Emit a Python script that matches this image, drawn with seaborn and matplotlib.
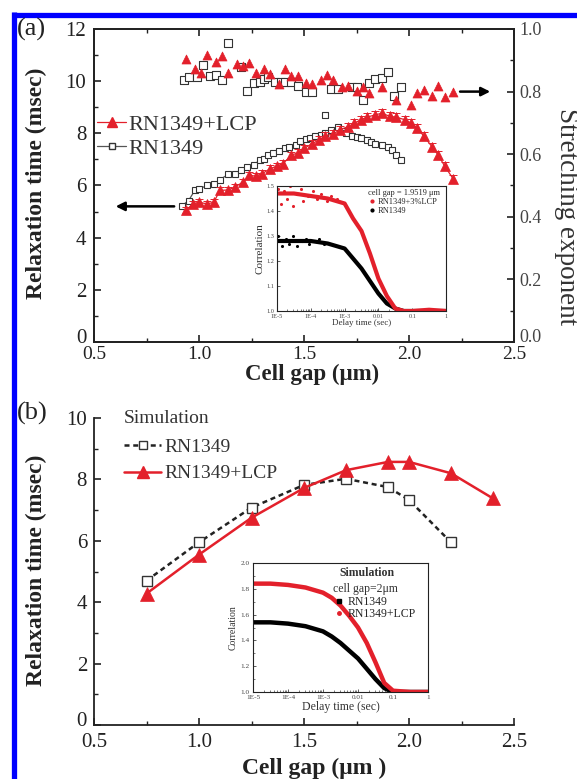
import matplotlib
matplotlib.use("Agg")
import matplotlib.pyplot as plt
import seaborn as sns
from matplotlib.lines import Line2D
from matplotlib.transforms import ScaledTranslation
from matplotlib.ticker import MultipleLocator, FormatStrFormatter, FixedLocator, FixedFormatter, LogLocator, NullFormatter

sns.set_theme(style="ticks")
plt.rcParams['font.family'] = ['Liberation Serif', 'DejaVu Serif']

RED = '#e3202b'
DARK = '#222222'
GRAY = '#555555'

# ---------------- panel (a): measured relaxation time ----------------
gap_lcp = [0.94, 0.97, 1.00, 1.04, 1.07, 1.10, 1.14, 1.17, 1.21, 1.24, 1.27, 1.30, 1.34,
           1.37, 1.40, 1.44, 1.47, 1.50, 1.54, 1.57, 1.60, 1.64, 1.67, 1.71, 1.74, 1.77,
           1.80, 1.84, 1.87, 1.91, 1.94, 1.98, 2.01, 2.04, 2.07, 2.11, 2.14, 2.17, 2.21]
tau_lcp = [5.06, 5.29, 5.36, 5.29, 5.36, 5.81, 5.83, 5.94, 6.13, 6.39, 6.36, 6.45, 6.65,
           6.74, 6.84, 7.16, 7.25, 7.42, 7.61, 7.74, 7.90, 7.98, 8.13, 8.26, 8.39, 8.52,
           8.62, 8.71, 8.77, 8.65, 8.62, 8.52, 8.39, 8.19, 7.90, 7.48, 7.16, 6.74, 6.26]
err_lcp = [0.12, 0.12, 0.12, 0.12, 0.12, 0.12, 0.13, 0.13, 0.13, 0.13, 0.13, 0.13, 0.13,
           0.13, 0.13, 0.14, 0.14, 0.14, 0.14, 0.14, 0.14, 0.14, 0.15, 0.15, 0.15, 0.15,
           0.15, 0.15, 0.15, 0.15, 0.15, 0.15, 0.15, 0.15, 0.15, 0.15, 0.15, 0.15, 0.15]

gap_rn = [0.92, 0.95, 0.98, 1.00, 1.04, 1.07, 1.10, 1.14, 1.17, 1.20, 1.23, 1.26, 1.29,
          1.31, 1.33, 1.35, 1.38, 1.41, 1.43, 1.46, 1.48, 1.51, 1.53, 1.55, 1.58, 1.60,
          1.63, 1.66, 1.68, 1.70, 1.73, 1.75, 1.77, 1.80, 1.82, 1.84, 1.87, 1.90, 1.92,
          1.94, 1.96]
tau_rn = [5.23, 5.42, 5.81, 5.87, 6.00, 6.04, 6.23, 6.43, 6.45, 6.61, 6.71, 6.80, 6.97,
          7.03, 7.16, 7.23, 7.33, 7.42, 7.46, 7.55, 7.72, 7.77, 7.83, 7.90, 7.94, 8.00,
          8.13, 8.23, 8.10, 8.00, 7.90, 7.85, 7.81, 7.74, 7.68, 7.61, 7.55, 7.48, 7.36,
          7.16, 6.97]
gap_rn_out = [1.60]
tau_rn_out = [8.71]

# stretching exponent (right axis)
beta_gap_lcp = [0.94, 0.98, 1.01, 1.04, 1.08, 1.11, 1.14, 1.18, 1.21, 1.24, 1.27, 1.31,
                1.34, 1.38, 1.41, 1.44, 1.47, 1.51, 1.54, 1.58, 1.61, 1.64, 1.68, 1.71,
                1.75, 1.78, 1.81, 1.87, 1.94, 2.01, 2.04, 2.07, 2.11, 2.14, 2.17, 2.21]
beta_lcp = [0.905, 0.871, 0.860, 0.916, 0.896, 0.914, 0.860, 0.887, 0.882, 0.890, 0.860,
            0.871, 0.855, 0.823, 0.871, 0.849, 0.849, 0.828, 0.823, 0.837, 0.853, 0.837,
            0.815, 0.817, 0.801, 0.815, 0.796, 0.815, 0.774, 0.758, 0.796, 0.806, 0.785,
            0.819, 0.783, 0.798]
beta_gap_rn = [0.93, 0.95, 0.99, 1.02, 1.05, 1.08, 1.11, 1.14, 1.20, 1.23, 1.26, 1.29,
               1.31, 1.33, 1.36, 1.39, 1.41, 1.44, 1.47, 1.51, 1.54, 1.63, 1.66, 1.73,
               1.75, 1.78, 1.81, 1.84, 1.87, 1.90, 1.93, 1.96]
beta_rn = [0.837, 0.847, 0.847, 0.884, 0.849, 0.852, 0.837, 0.955, 0.880, 0.801, 0.828,
           0.830, 0.839, 0.846, 0.830, 0.830, 0.830, 0.830, 0.819, 0.798, 0.798, 0.809,
           0.809, 0.815, 0.815, 0.774, 0.828, 0.839, 0.844, 0.862, 0.787, 0.815]

# inset (a): measured correlation
delay_a = [1e-5, 3.16e-5, 1e-4, 3.16e-4, 1e-3, 1.78e-3, 3.16e-3, 5.62e-3, 1e-2,
           1.78e-2, 3.16e-2, 5.62e-2, 0.1, 0.316, 1.0]
corr_a_lcp = [1.47, 1.47, 1.46, 1.45, 1.43, 1.37, 1.32, 1.23, 1.13, 1.06, 1.01, 1.00,
              1.00, 1.005, 1.00]
corr_a_rn = [1.28, 1.28, 1.28, 1.27, 1.25, 1.21, 1.17, 1.12, 1.07, 1.03, 1.01, 1.00,
             1.00, 1.00, 1.00]
# scattered early points of the measured curves (inset a)
noise_delay_lcp = [1.1e-5, 1.3e-5, 1.6e-5, 2.0e-5, 2.5e-5, 3.0e-5, 4.0e-5, 5.0e-5, 6.0e-5,
                   8.0e-5, 1.2e-4, 1.5e-4, 2.0e-4, 3.0e-4, 4.0e-4, 6.0e-4]
noise_corr_lcp = [1.49, 1.43, 1.48, 1.45, 1.50, 1.42, 1.47, 1.49, 1.44, 1.46, 1.48, 1.45,
                  1.47, 1.44, 1.46, 1.45]
noise_delay_rn = [1.1e-5, 1.4e-5, 1.8e-5, 2.3e-5, 3.0e-5, 4.0e-5, 5.5e-5, 7.0e-5, 9.0e-5,
                  1.3e-4, 1.8e-4, 2.5e-4]
noise_corr_rn = [1.30, 1.26, 1.29, 1.27, 1.30, 1.26, 1.28, 1.29, 1.27, 1.28, 1.29, 1.27]

# ---------------- panel (b): simulation ----------------
sim_gap_rn = [0.75, 1.0, 1.25, 1.5, 1.7, 1.9, 2.0, 2.2]
sim_tau_rn = [4.70, 5.95, 7.08, 7.82, 8.02, 7.75, 7.33, 5.95]
sim_gap_lcp = [0.75, 1.0, 1.25, 1.5, 1.7, 1.9, 2.0, 2.2, 2.4]
sim_tau_lcp = [4.28, 5.55, 6.75, 7.72, 8.30, 8.57, 8.57, 8.20, 7.38]

delay_b = [1e-5, 3.16e-5, 1e-4, 3.16e-4, 1e-3, 1.78e-3, 3.16e-3, 5.62e-3, 1e-2,
           1.78e-2, 3.16e-2, 5.62e-2, 0.1, 0.316, 1.0]
corr_b_lcp = [1.84, 1.84, 1.83, 1.81, 1.77, 1.73, 1.67, 1.59, 1.50, 1.38, 1.23, 1.07,
              1.01, 1.00, 1.00]
corr_b_rn = [1.54, 1.54, 1.53, 1.51, 1.47, 1.43, 1.38, 1.32, 1.26, 1.18, 1.10, 1.03,
             1.00, 1.00, 1.00]

xticks_log = [1e-5, 1e-4, 1e-3, 1e-2, 1e-1, 1]
xticklabels_log = ['1E-5', '1E-4', '1E-3', '0.01', '0.1', '1']

W, H = 577, 779
fig = plt.figure(figsize=(W / 100, H / 100), dpi=100)


def rect(l, t, r, b):
    return [l / W, 1 - b / H, (r - l) / W, (b - t) / H]


def style_spines(ax, lw=1.3):
    for s in ax.spines.values():
        s.set_linewidth(lw)
        s.set_color(DARK)


# ===================== panel (a) =====================
axA = fig.add_axes(rect(94, 29, 514, 342))
axA2 = axA.twinx()

sns.lineplot(x=gap_rn, y=tau_rn, ax=axA, color=GRAY, linewidth=0.9, marker='s',
             markersize=5, markerfacecolor='white', markeredgecolor='#333333',
             markeredgewidth=0.8, sort=False, estimator=None, legend=False)
sns.scatterplot(x=gap_rn_out, y=tau_rn_out, ax=axA, marker='s', s=24, color='white',
                edgecolor='#333333', linewidth=0.8, legend=False)
axA.errorbar(gap_lcp, tau_lcp, yerr=err_lcp, fmt='none', ecolor=RED, elinewidth=0.7,
             capsize=3, capthick=0.7, zorder=3)
sns.lineplot(x=gap_lcp, y=tau_lcp, ax=axA, color=RED, linewidth=0.9, marker='^',
             markersize=6.5, markeredgecolor=RED, markeredgewidth=0.5, sort=False,
             estimator=None, legend=False)

sns.scatterplot(x=beta_gap_rn, y=beta_rn, ax=axA2, marker='s', s=26, color='white',
                edgecolor='#333333', linewidth=0.8, legend=False)
sns.scatterplot(x=beta_gap_lcp, y=beta_lcp, ax=axA2, marker='^', s=42, color=RED,
                edgecolor=RED, linewidth=0.5, legend=False)

axA.set_xlim(0.5, 2.5)
axA.set_ylim(0, 12)
axA2.set_ylim(0, 1.0)
axA.set_xlabel('')
axA.set_ylabel('')
axA2.set_ylabel('')
axA.xaxis.set_major_locator(MultipleLocator(0.5))
axA.xaxis.set_minor_locator(MultipleLocator(0.25))
axA.xaxis.set_major_formatter(FormatStrFormatter('%.1f'))
axA.yaxis.set_major_locator(MultipleLocator(2))
axA.yaxis.set_minor_locator(MultipleLocator(1))
axA2.yaxis.set_major_locator(MultipleLocator(0.2))
axA2.yaxis.set_minor_locator(MultipleLocator(0.1))
axA2.yaxis.set_major_formatter(FormatStrFormatter('%.1f'))
axA.tick_params(axis='x', which='both', direction='in', top=True, labelsize=14,
                pad=3, colors=DARK)
axA.tick_params(axis='y', which='both', direction='in', right=False, labelsize=15,
                pad=5.5, colors=DARK)
axA.tick_params(which='major', length=5, width=1.2)
axA.tick_params(which='minor', length=3, width=1.0)
axA2.tick_params(axis='y', which='both', direction='in', labelsize=13, pad=4,
                 colors=DARK, labelcolor='#444444')
axA2.tick_params(which='major', length=5, width=1.2)
axA2.tick_params(which='minor', length=3, width=1.0)
style_spines(axA)
style_spines(axA2)

# arrows
axA.annotate('', xy=(0.59, 5.2), xytext=(0.895, 5.2),
             arrowprops=dict(arrowstyle='-|>', color='black', lw=1.8, mutation_scale=13))
axA2.annotate('', xy=(2.40, 0.80), xytext=(2.23, 0.80),
              arrowprops=dict(arrowstyle='-|>', color='black', lw=1.8, mutation_scale=13))

legA = axA.legend(
    handles=[Line2D([], [], color=RED, lw=0.9, marker='^', ms=7, mec=RED),
             Line2D([], [], color=GRAY, lw=0.9, marker='s', ms=5, mfc='white', mec='#333333')],
    labels=['RN1349+LCP', 'RN1349'], loc='upper left', bbox_to_anchor=(0.008, 0.727),
    frameon=False, fontsize=16, handlelength=1.3, handletextpad=0.1, labelspacing=0.15,
    borderpad=0, borderaxespad=0)
for t in legA.get_texts():
    t.set_color('#333333')

# inset (a)
axI1 = fig.add_axes(rect(277, 186, 446, 311))
axI1.set_facecolor('white')
sns.lineplot(x=delay_a, y=corr_a_rn, ax=axI1, color='black', linewidth=3.0,
             sort=False, estimator=None, legend=False)
sns.scatterplot(x=noise_delay_rn, y=noise_corr_rn, ax=axI1, color='black', s=5,
                linewidth=0, legend=False)
sns.lineplot(x=delay_a, y=corr_a_lcp, ax=axI1, color=RED, linewidth=3.0,
             sort=False, estimator=None, legend=False)
sns.scatterplot(x=noise_delay_lcp, y=noise_corr_lcp, ax=axI1, color=RED, s=5,
                linewidth=0, legend=False)
axI1.set_xscale('log')
axI1.set_xlim(1e-5, 1)
axI1.set_ylim(1.0, 1.5)
axI1.xaxis.set_major_locator(FixedLocator(xticks_log))
axI1.xaxis.set_major_formatter(FixedFormatter(xticklabels_log))
axI1.xaxis.set_minor_locator(LogLocator(base=10, subs=range(2, 10)))
axI1.xaxis.set_minor_formatter(NullFormatter())
axI1.yaxis.set_major_locator(MultipleLocator(0.1))
axI1.yaxis.set_major_formatter(FormatStrFormatter('%.1f'))
axI1.tick_params(which='both', direction='in', labelsize=4.5, colors='#444444')
axI1.tick_params(axis='x', pad=2)
axI1.tick_params(axis='y', pad=2)
axI1.tick_params(which='major', length=2.5, width=0.6)
axI1.tick_params(which='minor', length=1.5, width=0.5)
axI1.set_xlabel('Delay time (sec)', fontsize=6.5, labelpad=0.5, color='#333333')
axI1.set_ylabel('Correlation', fontsize=8, labelpad=1.5, color='#333333')
style_spines(axI1, 0.8)
legI1 = axI1.legend(
    handles=[Line2D([], [], ls='none', marker='o', ms=2, color=RED),
             Line2D([], [], ls='none', marker='o', ms=2, color='black')],
    labels=['RN1349+3%LCP', 'RN1349'], title='cell gap = 1.9519 μm',
    loc='upper right', bbox_to_anchor=(1.0, 1.02), frameon=False, fontsize=6,
    title_fontsize=6, handlelength=1.0, handletextpad=0.2, labelspacing=0.1,
    borderpad=0.2, alignment='left')

# ===================== panel (b) =====================
axB = fig.add_axes(rect(94, 418, 514, 725))
sns.lineplot(x=sim_gap_rn, y=sim_tau_rn, ax=axB, color='#222222', linewidth=1.8,
             linestyle=(0, (2, 1.5)), marker='s', markersize=7, markerfacecolor='white',
             markeredgecolor='#333333', markeredgewidth=1.0, sort=False, estimator=None,
             legend=False)
sns.lineplot(x=sim_gap_lcp, y=sim_tau_lcp, ax=axB, color=RED, linewidth=1.8, marker='^',
             markersize=9.5, markeredgecolor=RED, markeredgewidth=0.5, sort=False,
             estimator=None, legend=False)
axB.set_xlim(0.5, 2.5)
axB.set_ylim(0, 10)
axB.set_xlabel('')
axB.set_ylabel('')
sns.despine(ax=axB)
axB.xaxis.set_major_locator(MultipleLocator(0.5))
axB.xaxis.set_minor_locator(MultipleLocator(0.25))
axB.xaxis.set_major_formatter(FormatStrFormatter('%.1f'))
axB.yaxis.set_major_locator(MultipleLocator(2))
axB.yaxis.set_minor_locator(MultipleLocator(1))
axB.tick_params(axis='x', which='both', direction='in', labelsize=15, pad=6, colors=DARK)
axB.tick_params(axis='y', which='both', direction='in', labelsize=15, pad=5, colors=DARK)
axB.tick_params(which='major', length=5, width=1.2)
axB.tick_params(which='minor', length=3, width=1.0)
style_spines(axB)

legB = axB.legend(
    handles=[Line2D([], [], color='#222222', lw=1.8, ls=(0, (2, 1.5)), marker='s', ms=6,
                    mfc='white', mec='#333333'),
             Line2D([], [], color=RED, lw=1.8, marker='^', ms=9, mec=RED)],
    labels=['RN1349', 'RN1349+LCP'], title='Simulation', loc='upper left',
    bbox_to_anchor=(0.072, 1.025), frameon=False, fontsize=14, title_fontsize=14,
    handlelength=1.9, handletextpad=0.15, labelspacing=0.45, borderpad=0,
    borderaxespad=0, alignment='left')
legB._legend_box.sep = 8
legB.get_title().set_color('#333333')
for t in legB.get_texts():
    t.set_color('#333333')

# inset (b)
axI2 = fig.add_axes(rect(253, 563, 428, 692))
axI2.set_facecolor('white')
sns.lineplot(x=delay_b, y=corr_b_rn, ax=axI2, color='black', linewidth=3.2,
             sort=False, estimator=None, legend=False)
sns.lineplot(x=delay_b, y=corr_b_lcp, ax=axI2, color=RED, linewidth=3.2,
             sort=False, estimator=None, legend=False)
axI2.set_xscale('log')
axI2.set_xlim(1e-5, 1)
axI2.set_ylim(1.0, 2.0)
axI2.xaxis.set_major_locator(FixedLocator(xticks_log))
axI2.xaxis.set_major_formatter(FixedFormatter(xticklabels_log))
axI2.xaxis.set_minor_locator(LogLocator(base=10, subs=range(2, 10)))
axI2.xaxis.set_minor_formatter(NullFormatter())
axI2.yaxis.set_major_locator(MultipleLocator(0.2))
axI2.yaxis.set_minor_locator(MultipleLocator(0.1))
axI2.yaxis.set_major_formatter(FormatStrFormatter('%.1f'))
axI2.tick_params(which='both', direction='in', labelsize=5.2, colors='#444444')
axI2.tick_params(axis='x', pad=2.5)
axI2.tick_params(axis='y', pad=2.5)
axI2.tick_params(which='major', length=2.5, width=0.6)
axI2.tick_params(which='minor', length=1.5, width=0.5)
axI2.set_xlabel('Delay time (sec)', fontsize=8.5, labelpad=0.5, color='#333333')
axI2.set_ylabel('Correlation', fontsize=7, labelpad=2, color='#333333')
style_spines(axI2, 0.8)
axI2.text(0.65, 0.92, 'Simulation', transform=axI2.transAxes, fontsize=8.5,
          fontweight='bold', ha='center', va='center', color='#333333')
axI2.text(0.645, 0.80, 'cell gap=2μm', transform=axI2.transAxes, fontsize=8.5,
          ha='center', va='center', color='#333333')
axI2.legend(
    handles=[Line2D([], [], ls='none', marker='s', ms=2.5, color='black'),
             Line2D([], [], ls='none', marker='o', ms=2.5, color=RED)],
    labels=['RN1349', 'RN1349+LCP'], loc='upper left', bbox_to_anchor=(0.46, 0.745),
    frameon=False, fontsize=8.5, handlelength=1.0, handletextpad=0.2,
    labelspacing=0.05, borderpad=0, borderaxespad=0)

# ===================== figure-level labels =====================
fig.text(17 / W, 1 - 29 / H, '(a)', fontsize=19, ha='left', va='center', color='#222222')
fig.text(17 / W, 1 - 413 / H, '(b)', fontsize=19, ha='left', va='center', color='#222222')
fig.text(36 / W, 1 - 183 / H, 'Relaxation time (msec)', rotation=90, fontsize=17,
         fontweight='bold', ha='center', va='center', color='#222222')
fig.text(36 / W, 1 - 570 / H, 'Relaxation time (msec)', rotation=90, fontsize=17,
         fontweight='bold', ha='center', va='center', color='#222222')
fig.text(566 / W, 1 - 217 / H, 'Stretching exponent', rotation=270, fontsize=19.5,
         ha='center', va='center', color='#333333')
fig.text(312 / W, 1 - 374 / H, 'Cell gap (μm)', fontsize=16.5, fontweight='bold',
         ha='center', va='center', color='#222222')
fig.text(314 / W, 1 - 768 / H, 'Cell gap (μm )', fontsize=17, fontweight='bold',
         ha='center', va='center', color='#222222')

# blue frame lines (top and left)
fig.add_artist(Line2D([12 / W, 1.0], [1 - 14.5 / H, 1 - 14.5 / H], color='#0000ff',
                      lw=3.8, transform=fig.transFigure, solid_capstyle='butt'))
fig.add_artist(Line2D([14 / W, 14 / W], [1 - 12 / H, 0.0], color='#0000ff',
                      lw=3.8, transform=fig.transFigure, solid_capstyle='butt'))

# lift the bottom-most y tick labels slightly (as in the original, clear of x labels)
fig.canvas.draw()
lift = ScaledTranslation(0, 4.5 / 72, fig.dpi_scale_trans)
for ax_ in (axA, axA2, axB):
    for tk in ax_.yaxis.get_major_ticks():
        if abs(tk.get_loc()) < 1e-9:
            tk.label1.set_transform(tk.label1.get_transform() + lift)
            tk.label2.set_transform(tk.label2.get_transform() + lift)

fig.savefig('out.png', dpi=100)
